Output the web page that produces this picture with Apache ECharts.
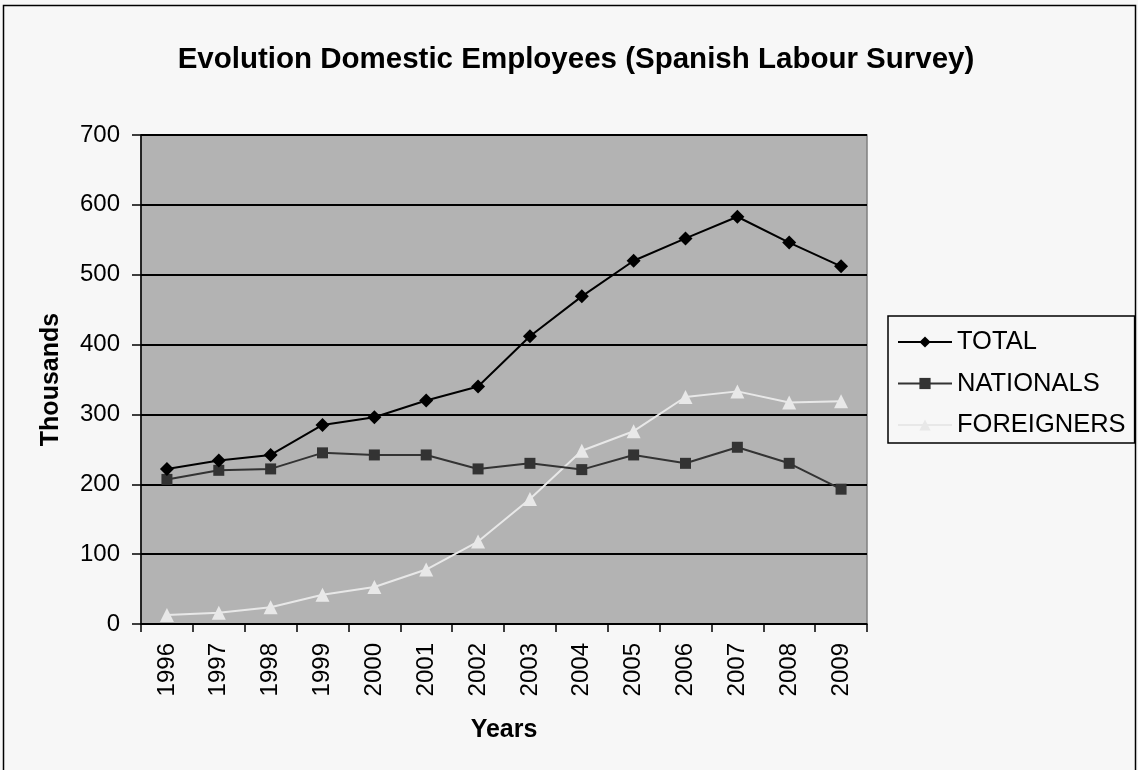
<!DOCTYPE html>
<html><head><meta charset="utf-8">
<script src="https://cdn.jsdelivr.net/npm/echarts@6/dist/echarts.min.js"></script>
<style>html,body{margin:0;padding:0;background:#f7f7f7}#c{width:1138px;height:770px}</style>
</head><body><div id="c"></div>
<script>
const years = ['1996','1997','1998','1999','2000','2001','2002','2003','2004','2005','2006','2007','2008','2009'];
const total = [222,234,242,285,296,320,340,412,469,520,552,583,546,512];
const nationals = [207,220,222,245,242,242,222,230,221,242,230,253,230,193];
const foreigners = [13,16,24,42,53,78,118,179,248,276,325,333,317,319];
const yTicks = [0,100,200,300,400,500,600,700];

const F = '"Liberation Sans", Arial, sans-serif';
const chart = echarts.init(document.getElementById('c'));
chart.setOption({
  backgroundColor: '#f7f7f7',
  animation: false,
  title: {
    text: 'Evolution Domestic Employees (Spanish Labour Survey)',
    left: 571, top: 40, textAlign: 'center',
    textStyle: {fontFamily: F, fontSize: 29.5, fontWeight: 'bold', color: '#000'}
  },
  graphic: [{type: 'rect', shape: {x: 3.5, y: 5.5, width: 1132, height: 800}, style: {fill: 'none', stroke: '#000', lineWidth: 1.5}, silent: true}],
  legend: {
    orient: 'vertical', left: 888, top: 316,
    borderColor: '#000', borderWidth: 1.5, backgroundColor: '#f7f7f7',
    padding: [13, 9, 5, 9], itemGap: 15.5, itemWidth: 54, itemHeight: 14,
    textStyle: {fontFamily: F, fontSize: 25.5, color: '#000', padding: [0,0,0,0]},
    data: ['TOTAL','NATIONALS','FOREIGNERS']
  },
  grid: {left: 141, top: 135, right: 271, bottom: 146, show: true, backgroundColor: '#b3b3b3', borderColor: '#808080', borderWidth: 1.5},
  xAxis: {
    type: 'category', data: years, boundaryGap: true,
    name: 'Years', nameLocation: 'middle', nameGap: 94,
    nameTextStyle: {fontFamily: F, fontSize: 25, fontWeight: 'bold', color: '#000'},
    axisLine: {lineStyle: {color: '#000', width: 1.5}},
    axisTick: {show: true, length: 8, lineStyle: {color: '#000', width: 1.5}},
    axisLabel: {rotate: 90, fontFamily: F, fontSize: 24, color: '#000', margin: 19}
  },
  yAxis: {
    type: 'value', min: 0, max: 700, interval: 100,
    name: 'Thousands', nameLocation: 'middle', nameGap: 77,
    nameTextStyle: {fontFamily: F, fontSize: 25, fontWeight: 'bold', color: '#000'},
    axisLine: {show: true, lineStyle: {color: '#000', width: 1.5}},
    axisTick: {show: true, length: 9, lineStyle: {color: '#000', width: 1.5}},
    axisLabel: {fontFamily: F, fontSize: 24, color: '#000', margin: 21, formatter: v => yTicks.includes(v) ? String(v) : ''},
    splitLine: {lineStyle: {color: '#000', width: 2}}
  },
  series: [
    {name: 'TOTAL', type: 'line', data: total, symbol: 'diamond', symbolSize: 14,
     lineStyle: {color: '#000', width: 2}, itemStyle: {color: '#000'}, z: 4},
    {name: 'NATIONALS', type: 'line', data: nationals, symbol: 'rect', symbolSize: 11,
     lineStyle: {color: '#333', width: 2}, itemStyle: {color: '#333'}, z: 3},
    {name: 'FOREIGNERS', type: 'line', data: foreigners, symbol: 'triangle', symbolSize: 14,
     lineStyle: {color: '#e8e8e8', width: 2}, itemStyle: {color: '#e8e8e8'}, z: 2}
  ]
});
</script></body></html>
